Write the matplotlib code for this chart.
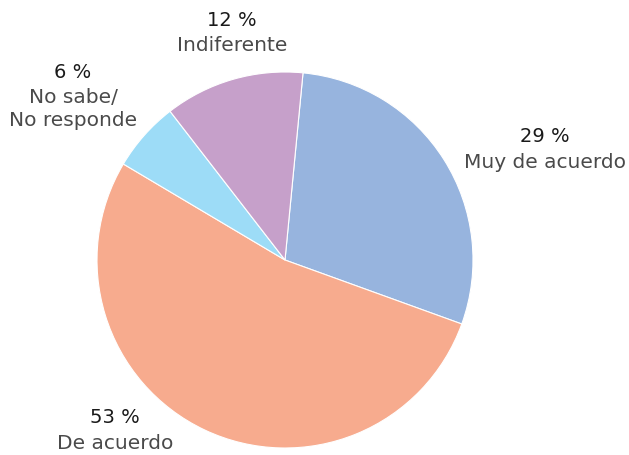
import matplotlib.pyplot as plt

categories = ['Muy de acuerdo', 'De acuerdo', 'No sabe/\nNo responde', 'Indiferente']
values = [29, 53, 6, 12]
colors = ['#97b4de', '#f7ab8e', '#9ddcf7', '#c6a0ca']

# label anchor points in pixel coords (x, y of first line, from top)
label_pos = [(545, 137), (115, 418), (73, 72), (232, 20)]

fig = plt.figure(figsize=(6.29, 4.56), dpi=100)
ax = fig.add_axes([0, 0, 1, 1])

ax.pie(values, colors=colors, startangle=84.5, counterclock=False,
       center=(285, 456 - 261), radius=188, frame=True,
       wedgeprops=dict(edgecolor='white', linewidth=0.8))
ax.set_xlim(0, 629)
ax.set_ylim(0, 456)
ax.set_aspect('equal')
ax.axis('off')

for cat, v, (x, y) in zip(categories, values, label_pos):
    ax.text(x, 456 - y, f'{v} %', ha='center', va='center', fontsize=14,
            family='DejaVu Sans', color='#1a1a1a')
    ax.text(x, 456 - y - 16, cat, ha='center', va='top', fontsize=14.5,
            family='DejaVu Sans', color='#4a4a4a', linespacing=1.3)

fig.savefig('out.png', dpi=100)
